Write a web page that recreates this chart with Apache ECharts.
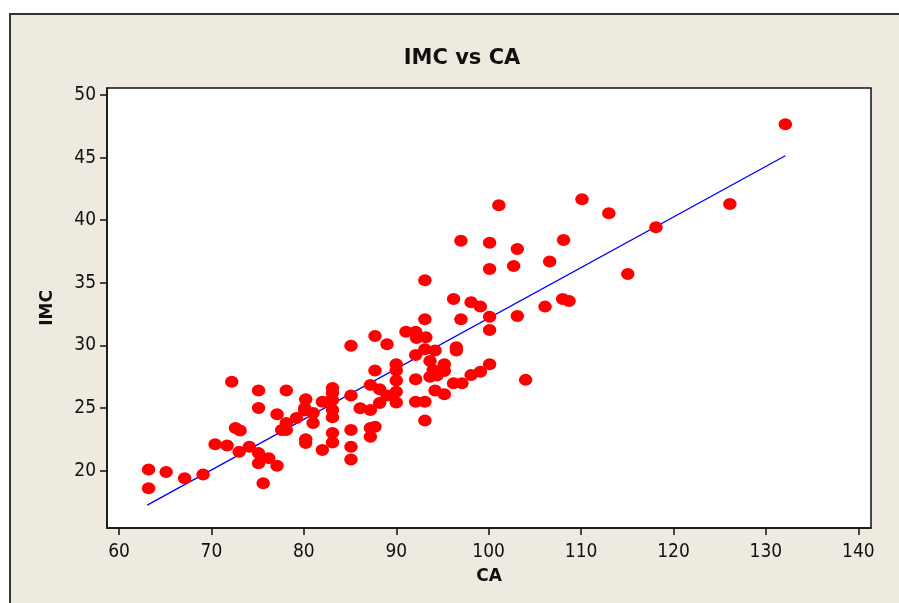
<!DOCTYPE html>
<html>
<head>
<meta charset="utf-8">
<title>IMC vs CA</title>
<script src="https://cdn.jsdelivr.net/npm/echarts@6/dist/echarts.min.js"></script>
<style>
  html, body { margin: 0; padding: 0; background: #ffffff; overflow: hidden; }
  #frame {
    position: absolute; left: 9px; top: 13px; width: 1000px; height: 700px;
    background: #eeeae0; border-left: 2px solid #333; border-top: 2px solid #333;
  }
  #chart { position: absolute; left: 0; top: 0; width: 899px; height: 603px; }
</style>
</head>
<body>
<div id="frame"></div>
<div id="chart"></div>
<script>
// CA (x) and IMC (y) for each subject
const caValues = [
  63.2, 63.2, 65.1, 67.1, 69.1, 70.4, 71.7, 72.2, 72.6, 73.1,
  73.0, 74.1, 75.1, 75.1, 75.1, 75.1, 75.6, 76.2, 77.1, 77.1,
  77.6, 78.1, 78.1, 78.1, 79.2,
  80.2, 80.1, 80.1, 81.0, 81.0, 80.2, 80.2, 82.0, 82.65, 82.0,
  83.1, 83.1, 83.1, 83.1, 83.1, 83.1, 83.1, 85.1, 85.1, 85.1,
  85.1, 85.1, 86.1,
  87.2, 87.2, 87.2, 87.7, 87.2, 87.7, 87.7, 88.2, 88.2, 89.0,
  89.0, 90.0, 90.0, 90.0, 90.0, 90.0,
  91.05, 92.1, 92.2, 93.2, 92.1, 93.1, 94.2, 93.1, 93.1, 93.65,
  95.2, 94.0, 95.2, 93.65, 94.4, 92.1, 94.2, 95.2, 93.1, 92.1,
  93.1,
  96.5, 96.5, 96.2, 97.0, 98.1, 99.1, 96.2, 97.1, 98.1, 99.1,
  97.0, 100.1, 100.1, 100.1, 100.1, 100.1, 101.1,
  102.7, 103.1, 103.1, 104.0, 106.1, 106.6, 108.0, 108.7, 108.1, 110.1,
  113.0, 115.05, 118.1, 126.1, 132.1
];
const imcValues = [
  20.1, 18.6, 19.9, 19.4, 19.7, 22.1, 22.0, 27.1, 23.4, 23.2,
  21.5, 21.9, 26.4, 25.0, 21.4, 20.6, 19.0, 21.0, 24.5, 20.4,
  23.25, 26.4, 23.8, 23.25, 24.2,
  25.7, 25.0, 24.8, 24.6, 23.8, 22.5, 22.2, 25.5, 25.5, 21.65,
  26.6, 26.2, 25.65, 24.85, 24.27, 23.0, 22.24, 29.98, 26.0, 23.25,
  21.9, 20.9, 24.98,
  26.85, 24.85, 23.4, 23.5, 22.7, 28.0, 30.76, 26.5, 25.4, 26.0,
  30.1, 28.5, 28.0, 27.2, 26.3, 25.45,
  31.1, 31.1, 30.6, 30.65, 29.24, 29.7, 29.6, 32.1, 35.2, 28.75,
  28.5, 28.04, 27.96, 27.5, 27.6, 27.3, 26.4, 26.1, 25.5, 25.5,
  24.0,
  29.85, 29.6, 33.7, 32.1, 33.45, 33.1, 26.98, 26.98, 27.64, 27.9,
  38.37, 38.2, 36.1, 32.3, 31.24, 28.5, 41.2,
  36.35, 37.7, 32.35, 27.25, 33.1, 36.7, 33.71, 33.55, 38.43, 41.68,
  40.56, 35.7, 39.44, 41.3, 47.67
];

// Fitted regression line: end points over the observed CA range
const fitCA = [63.05, 132.1];
const fitIMC = [17.25, 45.15];

// Axis tick labels
const caTicks = [60, 70, 80, 90, 100, 110, 120, 130, 140];
const imcTicks = [20, 25, 30, 35, 40, 45, 50];

const points = caValues.map((c, i) => [c, imcValues[i]]);
const fitLine = fitCA.map((c, i) => [c, fitIMC[i]]);

const tickFont = {
  fontFamily: '"DejaVu Sans Condensed", "Liberation Sans", sans-serif',
  fontSize: 19,
  color: '#111'
};

const chart = echarts.init(document.getElementById('chart'), null, { renderer: 'canvas' });
chart.setOption({
  backgroundColor: 'transparent',
  animation: false,
  title: {
    text: 'IMC vs CA',
    left: 457,
    top: 43,
    textAlign: 'center',
    textStyle: {
      fontFamily: '"DejaVu Sans", sans-serif',
      fontWeight: 'bold',
      fontSize: 21,
      color: '#111'
    }
  },
  grid: {
    left: 107, top: 88, right: 28, bottom: 75,
    show: true,
    backgroundColor: '#ffffff',
    borderColor: '#111',
    borderWidth: 1.5
  },
  xAxis: {
    type: 'value',
    min: 58.7,
    max: 141.37,
    name: 'CA',
    nameLocation: 'middle',
    nameGap: 40,
    nameTextStyle: {
      fontFamily: '"DejaVu Sans", sans-serif',
      fontWeight: 'bold', fontSize: 17, color: '#111'
    },
    axisLine: { show: true, onZero: false, lineStyle: { color: '#111', width: 1.5 } },
    axisTick: { show: true, inside: false, length: 7, customValues: caTicks, lineStyle: { color: '#111', width: 1.5 } },
    axisLabel: Object.assign({ margin: 15, customValues: caTicks }, tickFont),
    splitLine: { show: false }
  },
  yAxis: {
    type: 'value',
    min: 15.42,
    max: 50.56,
    name: 'IMC',
    nameLocation: 'middle',
    nameGap: 51,
    nameRotate: 90,
    nameTextStyle: {
      fontFamily: '"DejaVu Sans", sans-serif',
      fontWeight: 'bold', fontSize: 17, color: '#111'
    },
    axisLine: { show: true, onZero: false, lineStyle: { color: '#111', width: 1.5 } },
    axisTick: { show: true, inside: false, length: 7, customValues: imcTicks, lineStyle: { color: '#111', width: 1.5 } },
    axisLabel: Object.assign({ margin: 11, customValues: imcTicks }, tickFont),
    splitLine: { show: false }
  },
  series: [
    {
      type: 'line',
      data: fitLine,
      showSymbol: false,
      symbol: 'none',
      lineStyle: { color: '#0000ff', width: 1.4 },
      z: 2,
      silent: true
    },
    {
      type: 'scatter',
      data: points,
      symbol: 'circle',
      symbolSize: [13.5, 12],
      itemStyle: { color: '#ff0000', opacity: 1 },
      z: 3
    }
  ]
});
</script>
</body>
</html>
